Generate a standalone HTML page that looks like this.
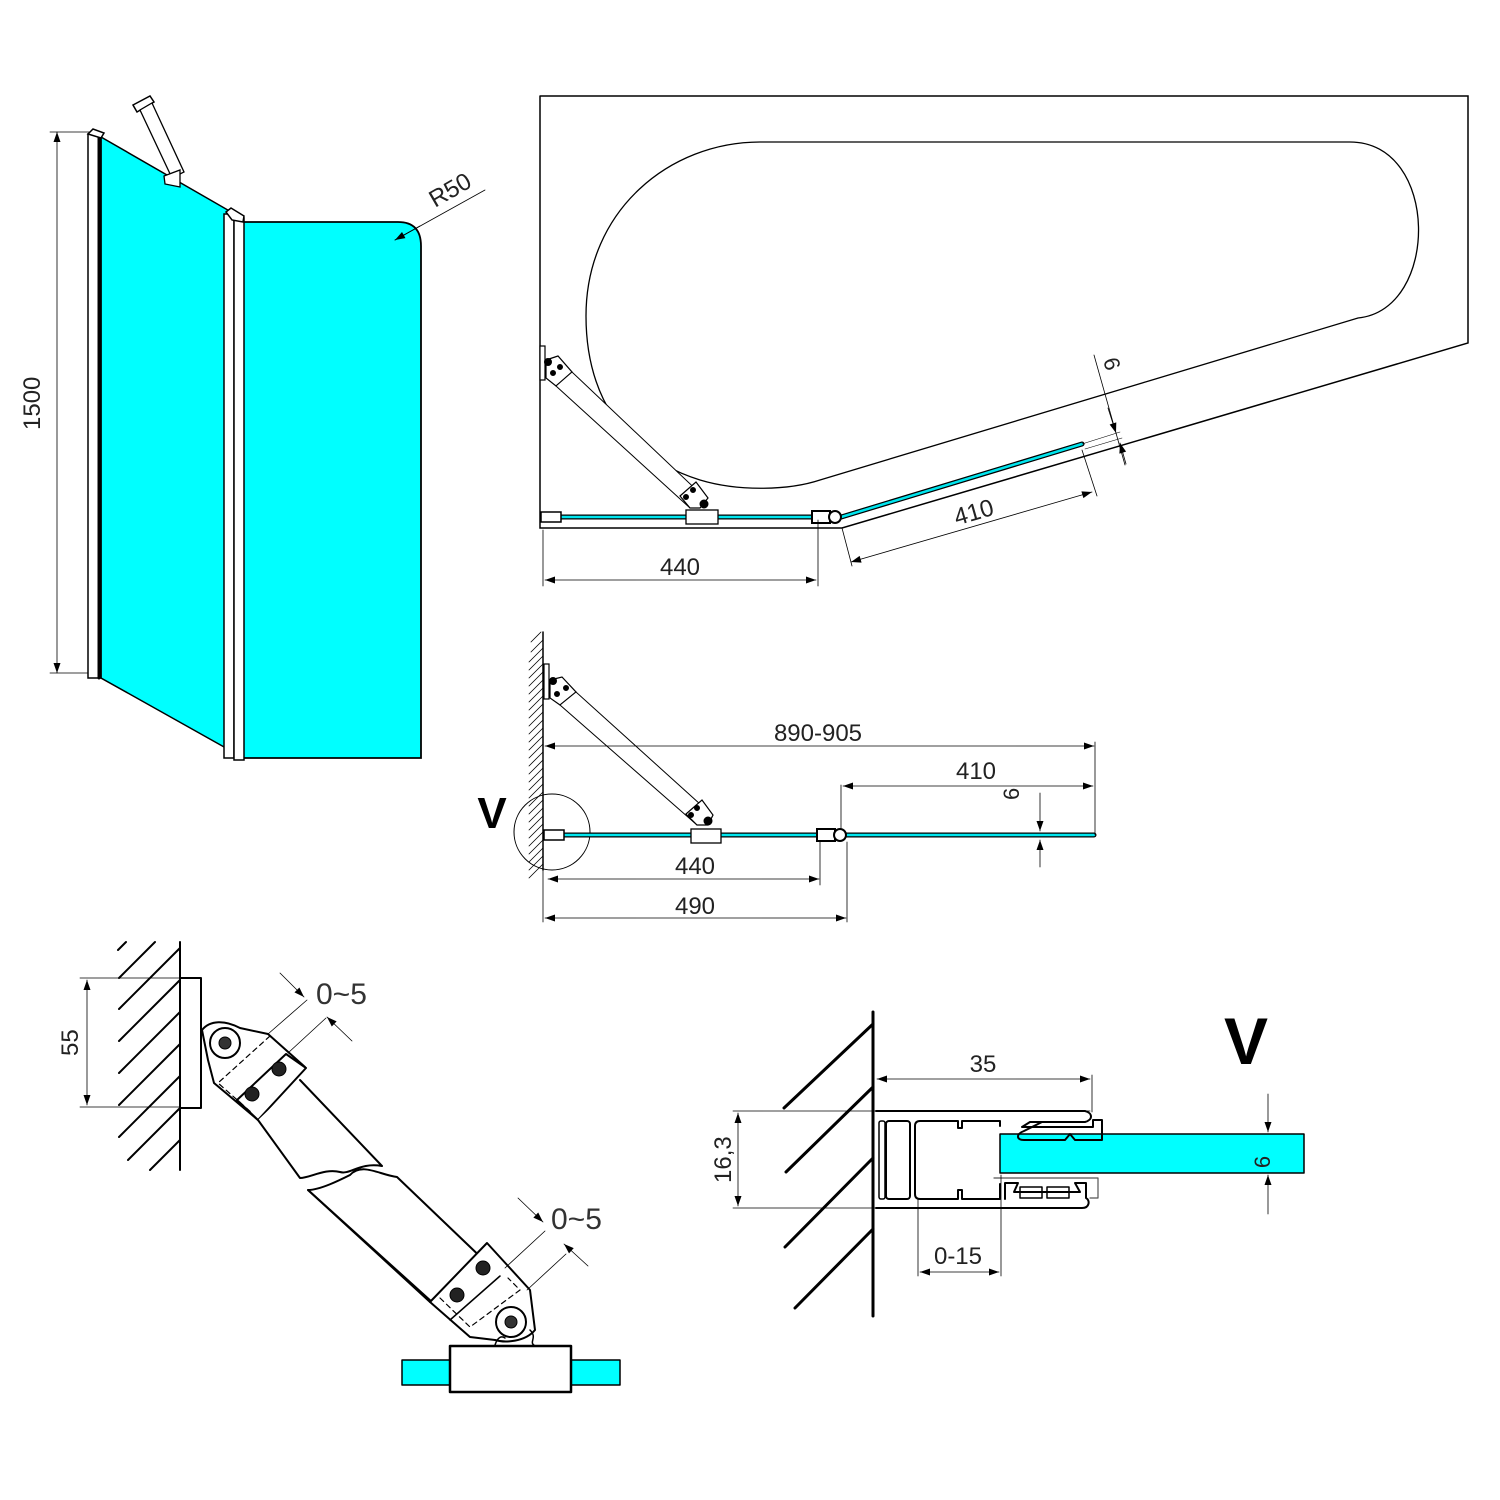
<!DOCTYPE html>
<html><head><meta charset="utf-8"><style>
html,body{margin:0;padding:0;background:#fff}
svg{display:block}
text{font-family:"Liberation Sans","DejaVu Sans",sans-serif;fill:#222}
</style></head><body>
<svg width="1500" height="1500" viewBox="0 0 1500 1500" xmlns="http://www.w3.org/2000/svg">
<defs>
<marker id="a" viewBox="0 0 10 10" refX="10" refY="5" markerWidth="14" markerHeight="10" markerUnits="userSpaceOnUse" orient="auto-start-reverse"><path d="M0,1.5 L10,5 L0,8.5z" fill="#000"/></marker>
</defs>
<g fill="none" stroke="#000" stroke-linecap="round">

<!-- ===== Top-left elevation ===== -->
<line x1="50" y1="132" x2="100" y2="132" stroke-width="0.8"/>
<line x1="50" y1="673" x2="100" y2="673" stroke-width="0.8"/>
<line x1="57" y1="132" x2="57" y2="673" stroke-width="0.8" marker-start="url(#a)" marker-end="url(#a)"/>
<polygon points="101,137 233,213 233,752 101,678" fill="#00ffff" stroke-width="1.5"/>
<rect x="88" y="134" width="13" height="544" fill="#fff" stroke-width="1.5"/>
<line x1="99" y1="134" x2="99" y2="678" stroke-width="3"/>
<polygon points="88,134 93,129 104,133 101,138" fill="#fff" stroke-width="1.5"/>
<path d="M243,222 H398 Q421,222 421,246 V758 H243 Z" fill="#00ffff" stroke-width="1.8"/>
<rect x="224" y="214" width="10" height="544" fill="#fff" stroke-width="1.5"/>
<rect x="234" y="218" width="10" height="542" fill="#fff" stroke-width="1.5"/>
<polygon points="226,212 231,208 244,216 243,222 232,220" fill="#fff" stroke-width="1.5"/>
<!-- arm -->
<polygon points="133,105 150,96 154,102 137,112" fill="#fff" stroke-width="1.5"/>
<polygon points="140,110 152,103 184,172 172,178" fill="#fff" stroke-width="1.3"/>
<polygon points="164,176 180,170 180,187 165,184" fill="#fff" stroke-width="1.3"/>
<line x1="395" y1="240" x2="485" y2="190" stroke-width="0.8"/>
<line x1="420" y1="226" x2="395" y2="240" stroke-width="0.8" marker-end="url(#a)"/>
</g>
<text x="0" y="0" font-size="24" transform="translate(40,430) rotate(-90)">1500</text>
<text x="0" y="0" font-size="24" transform="translate(435,208) rotate(-30)">R50</text>

<g fill="none" stroke="#000" stroke-linecap="round">
<!-- ===== Top-right plan ===== -->
<polyline points="540,96 1468,96 1468,343 842,528 540,528 540,96" stroke-width="1.5"/>
<path d="M760,142 H1350 C1440,142 1440,310 1358,318 L820,480 C790,490 740,492 700,480 C620,455 586,390 586,316 C586,210 670,142 760,142 Z" stroke-width="1.3"/>
<!-- glass -->
<line x1="548" y1="517" x2="820" y2="517" stroke="#000" stroke-width="5"/>
<line x1="548" y1="517" x2="820" y2="517" stroke="#00e5ee" stroke-width="2.5"/>
<line x1="838" y1="518" x2="1082" y2="444" stroke="#000" stroke-width="5"/>
<line x1="838" y1="518" x2="1082" y2="444" stroke="#00e5ee" stroke-width="2.5"/>
<rect x="541" y="512" width="20" height="10" fill="#fff" stroke-width="1.5"/>
<rect x="686" y="510" width="32" height="14" fill="#fff" stroke-width="1.3"/>
<rect x="812" y="511" width="18" height="12" fill="#fff" stroke-width="2"/>
<circle cx="835" cy="517" r="6" fill="#fff" stroke-width="2"/>
<rect x="540" y="346" width="5" height="34" fill="#fff" stroke-width="1.2"/>
<polygon points="546,360 558,356 572,372 556,386 546,378" fill="#fff" stroke-width="1.2"/>
<polygon points="556,386 572,372 705,498 690,508" fill="#fff" stroke-width="1"/>
<polygon points="680,496 696,482 708,498 700,508 690,508" fill="#fff" stroke-width="1.2"/>
<circle cx="548" cy="362" r="3.5" fill="#000"/><circle cx="560" cy="367" r="2.5" fill="#000"/><circle cx="553" cy="373" r="2.5" fill="#000"/>
<circle cx="704" cy="504" r="4" fill="#000"/><circle cx="693" cy="490" r="2.5" fill="#000"/><circle cx="686" cy="497" r="2.5" fill="#000"/>
<!-- dims -->
<line x1="543" y1="530" x2="543" y2="586" stroke-width="0.8"/>
<line x1="818" y1="520" x2="818" y2="586" stroke-width="0.8"/>
<line x1="545" y1="580" x2="816" y2="580" stroke-width="0.8" marker-start="url(#a)" marker-end="url(#a)"/>
<line x1="842" y1="528" x2="852" y2="566" stroke-width="0.8"/>
<line x1="1082" y1="450" x2="1097" y2="496" stroke-width="0.8"/>
<line x1="851" y1="562" x2="1092" y2="492" stroke-width="0.8" marker-start="url(#a)" marker-end="url(#a)"/>
<line x1="1082" y1="444" x2="1120" y2="432" stroke-width="0.6"/>
<line x1="1085" y1="449" x2="1122" y2="438" stroke-width="0.6"/>
<line x1="1094" y1="355" x2="1125" y2="465" stroke-width="0.8"/>
<line x1="1108" y1="408" x2="1116" y2="433" stroke-width="0.8" marker-end="url(#a)"/>
<line x1="1126" y1="464" x2="1120" y2="443" stroke-width="0.8" marker-end="url(#a)"/>
</g>
<text x="680" y="575" font-size="24" text-anchor="middle">440</text>
<text x="0" y="0" font-size="24" text-anchor="middle" transform="translate(976,520) rotate(-16)">410</text>
<text x="0" y="0" font-size="22" transform="translate(1103,360) rotate(74)">6</text>

<g fill="none" stroke="#000" stroke-linecap="round">
<!-- ===== Middle view ===== -->
<line x1="543" y1="632" x2="543" y2="870" stroke-width="1.5"/>
<g stroke-width="0.8">
<path d="M543,640 l-12,12 M543,648 l-14,14 M543,656 l-14,14 M543,664 l-14,14 M543,672 l-14,14 M543,680 l-14,14 M543,688 l-14,14 M543,696 l-14,14 M543,704 l-14,14 M543,712 l-14,14 M543,720 l-14,14 M543,728 l-14,14 M543,736 l-14,14 M543,744 l-14,14 M543,752 l-14,14 M543,760 l-14,14 M543,768 l-14,14 M543,776 l-14,14 M543,784 l-14,14 M543,792 l-14,14 M543,800 l-14,14 M543,808 l-14,14 M543,816 l-14,14 M543,824 l-14,14 M543,832 l-14,14 M543,840 l-14,14 M543,848 l-14,14 M543,856 l-14,14 M543,864 l-14,14 M541,632 l-10,10"/>
</g>
<circle cx="552" cy="832" r="38" stroke-width="1"/>
<line x1="545" y1="835" x2="1094" y2="835" stroke-width="5"/>
<line x1="545" y1="835" x2="1094" y2="835" stroke="#00e5ee" stroke-width="2.5"/>
<rect x="544" y="830" width="20" height="10" fill="#fff" stroke-width="1.5"/>
<rect x="691" y="829" width="30" height="14" fill="#fff" stroke-width="1.3"/>
<rect x="817" y="829" width="18" height="12" fill="#fff" stroke-width="2"/>
<circle cx="840" cy="835" r="6" fill="#fff" stroke-width="2"/>
<rect x="544" y="664" width="5" height="35" fill="#fff" stroke-width="1.2"/>
<polygon points="550,680 562,677 576,692 560,705 550,698" fill="#fff" stroke-width="1.2"/>
<polygon points="560,705 576,692 711,814 697,825" fill="#fff" stroke-width="1"/>
<polygon points="686,814 702,800 713,815 708,825 697,825" fill="#fff" stroke-width="1.2"/>
<circle cx="553" cy="681" r="3.5" fill="#000"/><circle cx="566" cy="688" r="2.5" fill="#000"/><circle cx="557" cy="694" r="2.5" fill="#000"/>
<circle cx="708" cy="821" r="4" fill="#000"/><circle cx="697" cy="808" r="2.5" fill="#000"/><circle cx="691" cy="815" r="2.5" fill="#000"/>
<!-- dims -->
<line x1="545" y1="746" x2="1094" y2="746" stroke-width="0.8" marker-start="url(#a)" marker-end="url(#a)"/>
<line x1="1095" y1="742" x2="1095" y2="835" stroke-width="0.8"/>
<line x1="841" y1="785" x2="841" y2="828" stroke-width="0.8"/>
<line x1="843" y1="786" x2="1093" y2="786" stroke-width="0.8" marker-start="url(#a)" marker-end="url(#a)"/>
<line x1="1040" y1="793" x2="1040" y2="831" stroke-width="0.8" marker-end="url(#a)"/>
<line x1="1040" y1="867" x2="1040" y2="840" stroke-width="0.8" marker-end="url(#a)"/>
<line x1="820" y1="842" x2="820" y2="885" stroke-width="0.8"/>
<line x1="548" y1="879" x2="819" y2="879" stroke-width="0.8" marker-start="url(#a)" marker-end="url(#a)"/>
<line x1="543" y1="870" x2="543" y2="922" stroke-width="0.8"/>
<line x1="847" y1="842" x2="847" y2="922" stroke-width="0.8"/>
<line x1="545" y1="918" x2="846" y2="918" stroke-width="0.8" marker-start="url(#a)" marker-end="url(#a)"/>
</g>
<text x="818" y="741" font-size="24" text-anchor="middle">890-905</text>
<text x="976" y="779" font-size="24" text-anchor="middle">410</text>
<text x="0" y="0" font-size="22" transform="translate(1019,800) rotate(-90)">6</text>
<text x="695" y="874" font-size="24" text-anchor="middle">440</text>
<text x="695" y="914" font-size="24" text-anchor="middle">490</text>
<text x="492" y="828" font-size="44" font-weight="bold" text-anchor="middle" style="fill:#000">V</text>

<g fill="none" stroke="#000" stroke-linecap="round" stroke-linejoin="round">
<!-- ===== Bottom-left bracket ===== -->
<line x1="180" y1="942" x2="180" y2="1170" stroke-width="2"/>
<g stroke-width="2">
<path d="M126,942 l-8,8 M155,942 l-36,36 M180,948 l-61,61 M180,980 l-61,61 M180,1012 l-61,61 M180,1044 l-61,61 M180,1076 l-61,61 M180,1108 l-52,52 M180,1140 l-30,30"/>
</g>
<line x1="80" y1="978" x2="200" y2="978" stroke-width="0.8"/>
<line x1="80" y1="1107" x2="200" y2="1107" stroke-width="0.8"/>
<line x1="87" y1="980" x2="87" y2="1105" stroke-width="0.8" marker-start="url(#a)" marker-end="url(#a)"/>
<rect x="180" y="978" width="21" height="130" fill="#fff" stroke-width="2"/>
<path d="M202,1030 C210,1020 225,1020 240,1028 L268,1034 L305,1067 L258,1120 L214,1083 L208,1060 Z" fill="#fff" stroke-width="2"/>
<circle cx="225" cy="1043" r="15" fill="#fff" stroke-width="2"/>
<circle cx="225" cy="1043" r="6" fill="#333"/>
<polygon points="237,1100 286,1054 306,1068 258,1120" fill="#fff" stroke-width="2"/>
<path d="M270,1036 L218,1083 L252,1113" stroke-width="1.2" stroke-dasharray="5,4"/>
<circle cx="279" cy="1069" r="7" fill="#222"/><circle cx="252" cy="1094" r="7" fill="#222"/>
<path d="M300,1080 L382,1166 C360,1162 350,1175 340,1172 C325,1168 310,1178 300,1178 L258,1120" fill="#fff" stroke-width="2"/>
<path d="M308,1190 C320,1190 340,1180 350,1175 C362,1162 380,1175 397,1177 L490,1266 L430,1302 Z" fill="#fff" stroke-width="2"/>
<line x1="308" y1="1190" x2="432" y2="1302" stroke-width="2"/>
<path d="M430,1302 L487,1243 L530,1290 L535,1330 C525,1342 505,1343 495,1340 L470,1337 Z" fill="#fff" stroke-width="2"/>
<path d="M440,1298 L470,1327 L520,1290 L508,1278" stroke-width="1.2" stroke-dasharray="5,4"/>
<line x1="450" y1="1320" x2="500" y2="1276" stroke-width="1.5"/>
<circle cx="483" cy="1268" r="7" fill="#222"/><circle cx="457" cy="1295" r="7" fill="#222"/>
<circle cx="511" cy="1322" r="15" fill="#fff" stroke-width="2"/>
<circle cx="511" cy="1322" r="6" fill="#333"/>
<path d="M495,1345 C498,1336 502,1336 505,1338 M530,1330 C538,1338 528,1342 535,1346" stroke-width="1.5"/>
<rect x="402" y="1360" width="48" height="25" fill="#00ffff" stroke-width="1.5"/>
<rect x="571" y="1360" width="49" height="25" fill="#00ffff" stroke-width="1.5"/>
<rect x="450" y="1346" width="121" height="46" fill="#fff" stroke-width="2.5"/>
<!-- 0~5 dims -->
<line x1="268" y1="1034" x2="307" y2="1000" stroke-width="0.8"/>
<line x1="288" y1="1053" x2="326" y2="1018" stroke-width="0.8"/>
<line x1="280" y1="973" x2="304" y2="997" stroke-width="0.8" marker-end="url(#a)"/>
<line x1="352" y1="1041" x2="327" y2="1017" stroke-width="0.8" marker-end="url(#a)"/>
<line x1="505" y1="1268" x2="545" y2="1231" stroke-width="0.8"/>
<line x1="527" y1="1290" x2="566" y2="1254" stroke-width="0.8"/>
<line x1="518" y1="1198" x2="543" y2="1222" stroke-width="0.8" marker-end="url(#a)"/>
<line x1="588" y1="1266" x2="564" y2="1244" stroke-width="0.8" marker-end="url(#a)"/>
</g>
<text x="0" y="0" font-size="24" transform="translate(78,1056) rotate(-90)">55</text>
<text x="316" y="1004" font-size="30" style="fill:#333">0~5</text>
<text x="551" y="1229" font-size="30" style="fill:#333">0~5</text>

<g fill="none" stroke="#000" stroke-linecap="round" stroke-linejoin="round">
<!-- ===== Bottom-right V detail ===== -->
<line x1="873" y1="1012" x2="873" y2="1316" stroke-width="3"/>
<g stroke-width="3">
<path d="M873,1024 L784,1108 M873,1087 L786,1172 M873,1158 L785,1247 M873,1229 L795,1308"/>
</g>
<line x1="733" y1="1111" x2="1090" y2="1111" stroke-width="0.8"/>
<line x1="733" y1="1208" x2="877" y2="1208" stroke-width="0.8"/>
<line x1="738" y1="1113" x2="738" y2="1206" stroke-width="0.8" marker-start="url(#a)" marker-end="url(#a)"/>
<line x1="1092" y1="1075" x2="1092" y2="1112" stroke-width="0.8"/>
<line x1="877" y1="1079" x2="1090" y2="1079" stroke-width="0.8" marker-start="url(#a)" marker-end="url(#a)"/>
<rect x="1000" y="1134" width="304" height="39" fill="#00ffff" stroke-width="1.5"/>
<path d="M876,1111 H1085 C1093,1113 1093,1120 1085,1122 H1030 L1022,1127 H1093 V1120 H1102 V1140 H1075 L1070,1134 L1065,1140 H1024 C1016,1140 1016,1134 1024,1131 L1042,1122" stroke-width="2"/>
<rect x="879" y="1121" width="6" height="78" rx="2" stroke-width="1.5"/>
<rect x="886" y="1121" width="24" height="78" rx="3" stroke-width="2"/>
<path d="M920,1121 H958 V1128 H962 V1121 H1000 V1126" stroke-width="2"/>
<path d="M915,1126 Q915,1121 920,1121 M915,1126 V1194 Q915,1199 920,1199 H958 V1190 H962 V1199 H1000 V1184" stroke-width="2"/>
<path d="M876,1208 H1082 C1090,1208 1090,1200 1086,1198 V1183 H1075 L1080,1192 H1014 L1018,1183 H1005 V1199" stroke-width="2"/>
<path d="M994,1178 H1098 V1198 H1090" stroke-width="1.2" stroke="#555"/>
<rect x="1020" y="1187" width="22" height="11" stroke-width="1.5"/>
<rect x="1047" y="1187" width="22" height="11" stroke-width="1.5"/>
<line x1="918" y1="1199" x2="918" y2="1276" stroke-width="0.8"/>
<line x1="1001" y1="1175" x2="1001" y2="1276" stroke-width="0.8"/>
<line x1="920" y1="1272" x2="999" y2="1272" stroke-width="0.8" marker-start="url(#a)" marker-end="url(#a)"/>
<line x1="1268" y1="1094" x2="1268" y2="1132" stroke-width="0.8" marker-end="url(#a)"/>
<line x1="1268" y1="1214" x2="1268" y2="1175" stroke-width="0.8" marker-end="url(#a)"/>
</g>
<text x="983" y="1072" font-size="24" text-anchor="middle">35</text>
<text x="0" y="0" font-size="24" transform="translate(731,1183) rotate(-90)">16,3</text>
<text x="958" y="1264" font-size="24" text-anchor="middle">0-15</text>
<text x="0" y="0" font-size="22" transform="translate(1270,1162) rotate(-90)" text-anchor="middle">6</text>
<text x="1246" y="1064" font-size="66" font-weight="bold" text-anchor="middle" style="fill:#000">V</text>
</svg>
</body></html>
